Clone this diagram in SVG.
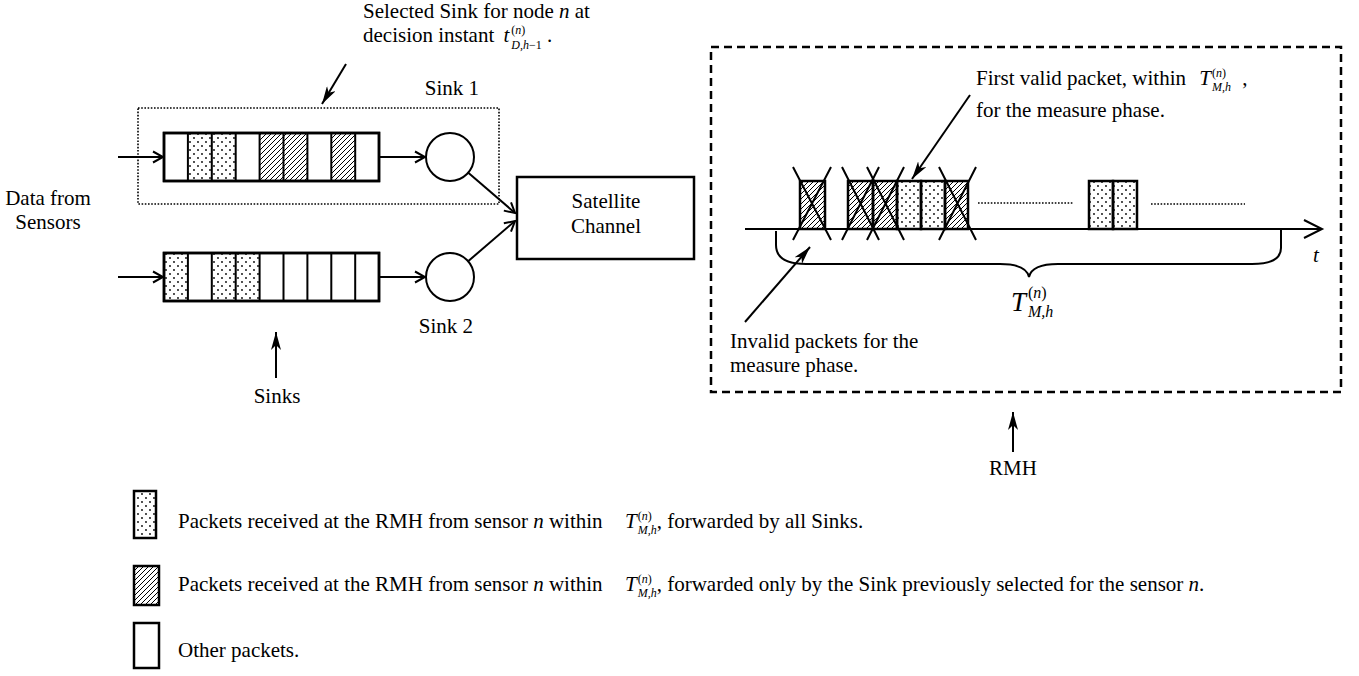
<svg xmlns="http://www.w3.org/2000/svg" width="1359" height="676" viewBox="0 0 1359 676" font-family="'Liberation Serif', 'DejaVu Serif', 'Times New Roman', serif">
<style>
.t{font-family:'Liberation Serif','DejaVu Serif','Times New Roman',serif;font-size:21px;fill:#000}
.i{font-style:italic}
.s{font-size:12px}
.ln{stroke:#000;stroke-width:2;fill:none}
.box{stroke:#000;stroke-width:2.5}
.cell{stroke:#000;stroke-width:2}
.x{stroke:#000;stroke-width:2}
.dotl{stroke:#000;stroke-width:1.6;stroke-dasharray:1.6 1.6}
</style>
<defs>
<pattern id="hatch" patternUnits="userSpaceOnUse" width="5" height="5">
<path d="M-1,1 L1,-1 M0,5 L5,0 M4,6 L6,4" stroke="#000" stroke-width="1"/>
</pattern>
<pattern id="dots" patternUnits="userSpaceOnUse" width="8" height="8">
<circle cx="2" cy="2" r="0.9" fill="#000"/><circle cx="6" cy="6" r="0.9" fill="#000"/>
</pattern>
<marker id="oa" markerUnits="userSpaceOnUse" viewBox="0 0 14 14" refX="12" refY="7" markerWidth="14" markerHeight="14" orient="auto">
<path d="M2,1.5 L12,7 L2,12.5" fill="none" stroke="#000" stroke-width="2"/>
</marker>
<marker id="fa" markerUnits="userSpaceOnUse" viewBox="0 0 18 10" refX="18" refY="5" markerWidth="18" markerHeight="10" orient="auto">
<path d="M0,0 L18,5 L0,10 L5,5 Z" fill="#000"/>
</marker>
</defs>
<rect width="1359" height="676" fill="#fff"/>

<g id="selected-sink-box">
<rect x="138" y="108" width="361" height="96" fill="none" stroke="#000" stroke-width="1.6" stroke-dasharray="1.6 1.6"/>
</g>

<g id="queue1">
<rect x="164" y="133" width="215" height="48" fill="#fff" class="box"/>
<rect x="187.9" y="133" width="23.9" height="48" fill="url(#dots)"/>
<rect x="211.8" y="133" width="23.9" height="48" fill="url(#dots)"/>
<rect x="259.6" y="133" width="23.9" height="48" fill="url(#hatch)"/>
<rect x="283.5" y="133" width="23.9" height="48" fill="url(#hatch)"/>
<rect x="331.3" y="133" width="23.9" height="48" fill="url(#hatch)"/>
<path class="cell" d="M187.9,133V181M211.8,133V181M235.7,133V181M259.6,133V181M283.5,133V181M307.4,133V181M331.3,133V181M355.2,133V181"/>
<rect x="164" y="133" width="215" height="48" fill="none" class="box"/>
</g>
<g id="sink1">
<circle cx="450" cy="157" r="24" fill="#fff" stroke="#000" stroke-width="2"/>
<text class="t" x="452" y="95" text-anchor="middle">Sink 1</text>
</g>

<g id="queue2">
<rect x="164" y="253" width="215" height="48" fill="#fff" class="box"/>
<rect x="164" y="253" width="23.9" height="48" fill="url(#dots)"/>
<rect x="211.8" y="253" width="23.9" height="48" fill="url(#dots)"/>
<rect x="235.7" y="253" width="23.9" height="48" fill="url(#dots)"/>
<path class="cell" d="M187.9,253V301M211.8,253V301M235.7,253V301M259.6,253V301M283.5,253V301M307.4,253V301M331.3,253V301M355.2,253V301"/>
<rect x="164" y="253" width="215" height="48" fill="none" class="box"/>
</g>
<g id="sink2">
<circle cx="450" cy="277" r="24" fill="#fff" stroke="#000" stroke-width="2"/>
<text class="t" x="446" y="333" text-anchor="middle">Sink 2</text>
</g>

<g id="data-from-sensors">
<text class="t" x="48" y="205" text-anchor="middle">Data from</text>
<text class="t" x="48" y="229" text-anchor="middle">Sensors</text>
</g>

<g id="sinks-label">
<text class="t" x="277" y="403" text-anchor="middle">Sinks</text>
</g>

<g id="selected-sink-label">
<text class="t" x="363" y="18">Selected Sink for node <tspan class="i">n</tspan> at</text>
<text class="t" x="363" y="42">decision instant <tspan class="i" dx="4">t</tspan><tspan class="s" dx="2" dy="-8">(<tspan class="i">n</tspan>)</tspan><tspan class="s i" dx="-14" dy="15">D,h<tspan font-style="normal">−1</tspan></tspan><tspan dy="-7"> .</tspan></text>
</g>

<g id="satellite-channel">
<rect x="517" y="177" width="177" height="82" fill="#fff" class="box"/>
<text class="t" x="606" y="208" text-anchor="middle">Satellite</text>
<text class="t" x="606" y="233" text-anchor="middle">Channel</text>
</g>

<g id="rmh">
<rect x="711" y="47" width="630" height="345" fill="none" stroke="#000" stroke-width="2.5" stroke-dasharray="8 5"/>
<text class="t" x="1013" y="475" text-anchor="middle">RMH</text>
</g>

<g id="timeline-packets">
<rect x="800" y="181" width="25" height="48" fill="url(#hatch)" class="box"/>
<rect x="848" y="181" width="25" height="48" fill="url(#hatch)" class="box"/>
<rect x="873" y="181" width="24" height="48" fill="url(#hatch)" class="box"/>
<rect x="897" y="181" width="24" height="48" fill="url(#dots)" class="box"/>
<rect x="921" y="181" width="24" height="48" fill="url(#dots)" class="box"/>
<rect x="945" y="181" width="23" height="48" fill="url(#hatch)" class="box"/>
<rect x="1089" y="181" width="24" height="48" fill="url(#dots)" class="box"/>
<rect x="1113" y="181" width="24" height="48" fill="url(#dots)" class="box"/>
<path class="x" d="M793,167L831,240M831,167L793,240M842,167L879,240M879,167L842,240M867,167L904,240M904,167L867,240M939,167L976,240M976,167L939,240"/>
<line class="dotl" x1="978" y1="203" x2="1073" y2="203"/>
<line class="dotl" x1="1151" y1="204" x2="1245" y2="204"/>
</g>

<g id="brace">
<path class="ln" d="M776,231V245C776,257 786,264 806,264H1000C1018,264 1027,268 1029,277C1031,268 1040,264 1058,264H1252C1272,264 1281,258 1281,248V229"/>
<text class="t" x="1011" y="311"><tspan class="i" font-size="27">T</tspan><tspan font-size="16" dx="2" dy="-13">(<tspan class="i">n</tspan>)</tspan><tspan class="i" font-size="16" dx="-18.7" dy="19">M,h</tspan></text>
<text class="t i" x="1313" y="262">t</text>
</g>

<g id="first-valid-label">
<text class="t" x="976" y="85">First valid packet, within <tspan class="i" dx="8">T</tspan><tspan class="s" dx="1" dy="-8">(<tspan class="i">n</tspan>)</tspan><tspan class="s i" dx="-14" dy="14">M,h</tspan><tspan dx="6" dy="-6"> ,</tspan></text>
<text class="t" x="976" y="117">for the measure phase.</text>
</g>

<g id="invalid-label">
<text class="t" x="730" y="348">Invalid packets for the</text>
<text class="t" x="730" y="372">measure phase.</text>
</g>

<g id="connectors">
<line class="ln" x1="118" y1="157" x2="163" y2="157" marker-end="url(#oa)"/>
<line class="ln" x1="380" y1="157" x2="425" y2="157" marker-end="url(#oa)"/>
<line class="ln" x1="118" y1="277" x2="163" y2="277" marker-end="url(#oa)"/>
<line class="ln" x1="380" y1="277" x2="425" y2="277" marker-end="url(#oa)"/>
<line class="ln" x1="468" y1="172.5" x2="515" y2="213" marker-end="url(#oa)"/>
<line class="ln" x1="468.4" y1="261" x2="515" y2="221" marker-end="url(#oa)"/>
<line class="ln" x1="346" y1="64" x2="322" y2="104" marker-end="url(#fa)"/>
<line class="ln" x1="276" y1="378" x2="276" y2="332" marker-end="url(#fa)"/>
<line class="ln" x1="970" y1="95" x2="912" y2="179" marker-end="url(#fa)"/>
<line class="ln" x1="745" y1="322" x2="810" y2="247" marker-end="url(#fa)"/>
<line class="ln" x1="1013" y1="452" x2="1013" y2="412" marker-end="url(#fa)"/>
<line class="ln" x1="745" y1="229" x2="1321" y2="229"/>
<path class="ln" d="M1304,220L1322,229L1304,238"/>
</g>

<g id="legend-dots">
<rect x="134" y="491" width="22" height="47" fill="url(#dots)" class="box"/>
<text class="t" x="178" y="528">Packets received at the RMH from sensor <tspan class="i">n</tspan> within</text>
<text class="t" x="625" y="528"><tspan class="i">T</tspan><tspan class="s" dx="1" dy="-8">(<tspan class="i">n</tspan>)</tspan><tspan class="s i" dx="-14" dy="14">M,h</tspan><tspan dy="-6">, forwarded by all Sinks.</tspan></text>
</g>
<g id="legend-hatch">
<rect x="134" y="566" width="25" height="39" fill="url(#hatch)" class="box"/>
<text class="t" x="178" y="591">Packets received at the RMH from sensor <tspan class="i">n</tspan> within</text>
<text class="t" x="625" y="591"><tspan class="i">T</tspan><tspan class="s" dx="1" dy="-8">(<tspan class="i">n</tspan>)</tspan><tspan class="s i" dx="-14" dy="14">M,h</tspan><tspan dy="-6">, forwarded only by the Sink previously selected for the sensor <tspan class="i">n</tspan>.</tspan></text>
</g>
<g id="legend-other">
<rect x="134" y="623" width="25" height="45" fill="#fff" class="box"/>
<text class="t" x="178" y="657">Other packets.</text>
</g>
</svg>
